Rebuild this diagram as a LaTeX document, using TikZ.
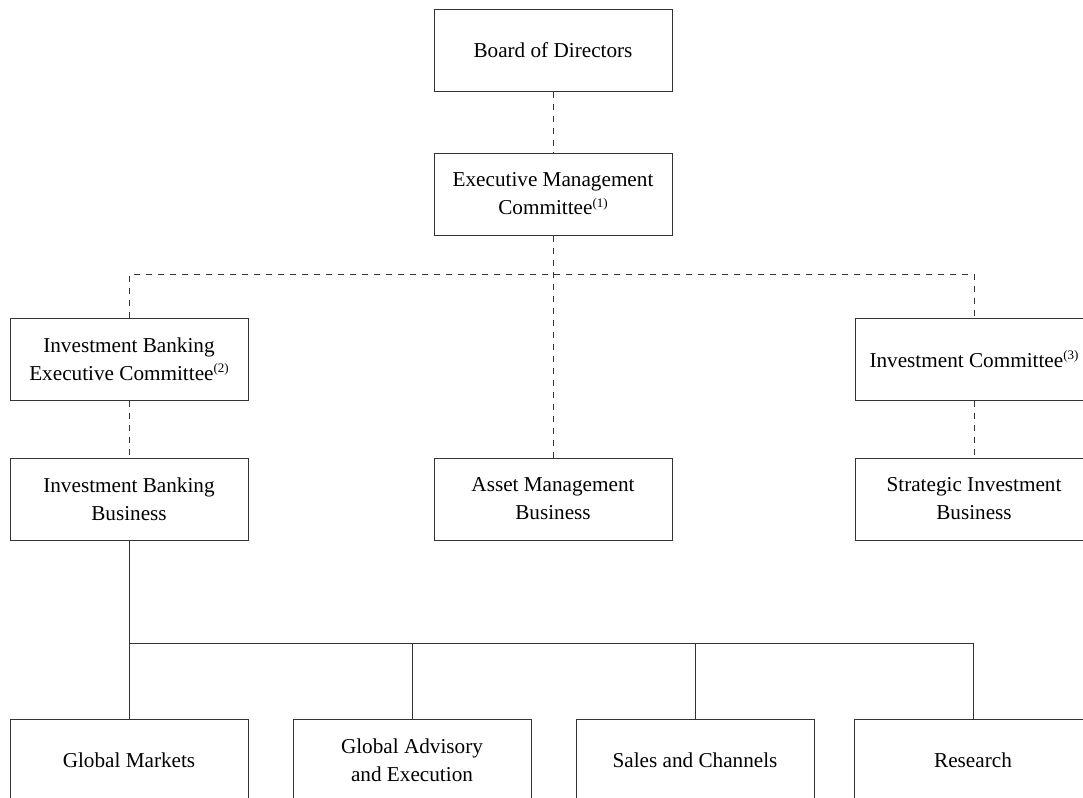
\documentclass[tikz,border=0pt]{standalone}
\usepackage{fontspec}
\setmainfont{Liberation Serif}
\usetikzlibrary{positioning}

\newcommand{\fnref}[1]{\raisebox{0.75ex}{\fontsize{6.5}{6.5}\selectfont(#1)}}

\begin{document}
\begin{tikzpicture}[
  every node/.style={
    rectangle,
    font=\fontsize{10.6}{14}\selectfont,
  },
  unit/.style={draw=black!80, line width=0.5pt, minimum width=119pt,
    minimum height=41pt, align=center, inner sep=2pt},
  report/.style={draw=black!80, line width=0.5pt, dash pattern=on 3pt off 3pt},
  line/.style={draw=black!80, line width=0.5pt}
]
\useasboundingbox (0,0) rectangle (541.5pt,-399pt);

\node[unit] (board) at (276.5pt,-25pt) {Board of Directors};
\node[unit, below=30.5pt of board] (emc) {Executive Management\\Committee\fnref{1}};

\node[unit] (ibec) at (64.5pt,-179.5pt) {Investment Banking\\Executive Committee\fnref{2}};
\node[unit] (ic) at (487pt,-179.5pt) {Investment Committee\fnref{3}};

\node[unit, below=28.5pt of ibec] (ibb) {Investment Banking\\Business};
\node[unit, right=92.5pt of ibb] (amb) {Asset Management\\Business};
\node[unit, below=28.5pt of ic] (sib) {Strategic Investment\\Business};

\node[unit, below=89pt of ibb] (gm) {Global Markets};
\node[unit, right=22pt of gm] (gae) {Global Advisory\\and Execution};
\node[unit, right=22pt of gae] (sc) {Sales and Channels};
\node[unit, right=19.5pt of sc] (research) {Research};

\coordinate (split) at (276.5pt,-137pt);
\coordinate (fork) at (0,-321.5pt);

\path[report] (board) -- (emc);
\path[report] (emc) -- (amb);
\path[report] (ibec.north) |- (split) -| (ic.north);
\path[report] (ibec) -- (ibb);
\path[report] (ic) -- (sib);

\path[line] (ibb) -- (gm);
\path[line] (gm.north |- fork) -| (research.north);
\path[line] (gae.north |- fork) -- (gae.north);
\path[line] (sc.north |- fork) -- (sc.north);
\end{tikzpicture}
\end{document}
